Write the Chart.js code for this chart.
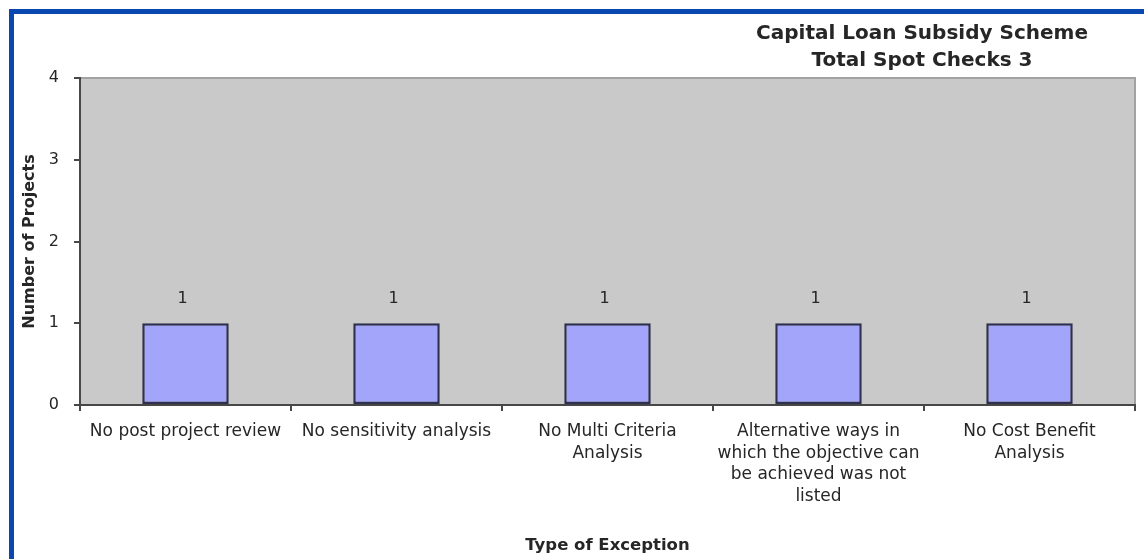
<!DOCTYPE html>
<html>
<head>
<meta charset="utf-8">
<title>Capital Loan Subsidy Scheme</title>
<script src="https://cdn.jsdelivr.net/npm/chart.js@4.4.1/dist/chart.umd.min.js"></script>
<style>
  html, body { margin: 0; padding: 0; background: #fff; }
  #wrap { position: relative; width: 1144px; height: 559px; overflow: hidden; }
  #frame {
    position: absolute; left: 9px; top: 9px; right: -20px; bottom: -20px;
    border-top: 5px solid #0a48b0; border-left: 5px solid #0a48b0;
  }
  #chart { position: absolute; left: 0; top: 0; }
</style>
</head>
<body>
<div id="wrap">
  <div id="frame"></div>
  <canvas id="chart" width="1144" height="559"></canvas>
</div>
<script>
const categories = [
  'No post project review',
  'No sensitivity analysis',
  ['No Multi Criteria', 'Analysis'],
  ['Alternative ways in', 'which the objective can', 'be achieved was not', 'listed'],
  ['No Cost Benefit', 'Analysis']
];
const projects = [1, 1, 1, 1, 1];
const yTicks = [0, 1, 2, 3, 4];
const titleLines = ['Capital Loan Subsidy Scheme', 'Total Spot Checks 3'];

const FONT = 'DejaVu Sans';
const INK = '#262626';
const AXIS = '#474747';

// grey plot area with a light frame on the top and right edges
const plotBackground = {
  id: 'plotBackground',
  beforeDraw(chart) {
    const { ctx, chartArea: a } = chart;
    ctx.save();
    ctx.fillStyle = '#c9c9c9';
    ctx.fillRect(a.left, a.top, a.right - a.left, a.bottom - a.top);
    ctx.strokeStyle = '#a2a2a2';
    ctx.lineWidth = 2;
    ctx.beginPath();
    ctx.moveTo(a.left, a.top);
    ctx.lineTo(a.right, a.top);
    ctx.lineTo(a.right, a.bottom);
    ctx.stroke();
    ctx.restore();
  }
};

// two-line heading, sitting over the right half of the chart
const heading = {
  id: 'heading',
  afterDraw(chart) {
    const { ctx } = chart;
    ctx.save();
    ctx.font = 'bold 20px "' + FONT + '"';
    ctx.fillStyle = INK;
    ctx.textAlign = 'center';
    ctx.textBaseline = 'middle';
    titleLines.forEach((line, i) => ctx.fillText(line, 922, 34 + i * 27));
    ctx.restore();
  }
};

// value written above each bar
const barValues = {
  id: 'barValues',
  afterDatasetsDraw(chart) {
    const { ctx } = chart;
    const meta = chart.getDatasetMeta(0);
    ctx.save();
    ctx.font = '16px "' + FONT + '"';
    ctx.fillStyle = INK;
    ctx.textAlign = 'center';
    ctx.textBaseline = 'middle';
    meta.data.forEach((bar, i) => {
      ctx.fillText(String(projects[i]), bar.x - 3, bar.y - 24);
    });
    ctx.restore();
  }
};

new Chart(document.getElementById('chart').getContext('2d'), {
  type: 'bar',
  data: {
    labels: categories,
    datasets: [{
      label: 'Number of Projects',
      data: projects,
      backgroundColor: '#a3a5fb',
      borderColor: '#2e3050',
      borderWidth: 2.5,
      borderSkipped: false,
      barPercentage: 0.41,
      categoryPercentage: 1.0
    }]
  },
  options: {
    responsive: false,
    animation: false,
    layout: { padding: { top: 78, right: 9, left: 0, bottom: 0 } },
    plugins: {
      legend: { display: false },
      tooltip: { enabled: false }
    },
    scales: {
      x: {
        grid: {
          display: true, drawOnChartArea: false, offset: true,
          tickLength: 6, color: AXIS, lineWidth: 2
        },
        border: { display: true, color: AXIS, width: 2 },
        ticks: {
          autoSkip: false, maxRotation: 0, minRotation: 0, padding: 10,
          color: INK, font: { family: FONT, size: 17, lineHeight: 1.27 }
        },
        title: {
          display: true, text: 'Type of Exception', color: INK,
          font: { family: FONT, size: 16.5, weight: 'bold' },
          padding: { top: 0, bottom: 3 }
        },
        afterFit(scale) { scale.height = 154; }
      },
      y: {
        min: yTicks[0],
        max: yTicks[yTicks.length - 1],
        afterBuildTicks(scale) { scale.ticks = yTicks.map(v => ({ value: v })); },
        grid: {
          display: true, drawOnChartArea: false,
          tickLength: 6, color: AXIS, lineWidth: 2
        },
        border: { display: true, color: AXIS, width: 2 },
        ticks: {
          padding: 15, color: INK,
          font: { family: FONT, size: 16 }
        },
        title: {
          display: true, text: 'Number of Projects', color: INK,
          font: { family: FONT, size: 16, weight: 'bold' },
          padding: { top: 20, bottom: 0 }
        },
        afterFit(scale) { scale.width = 80; }
      }
    }
  },
  plugins: [plotBackground, heading, barValues]
});
</script>
</body>
</html>
